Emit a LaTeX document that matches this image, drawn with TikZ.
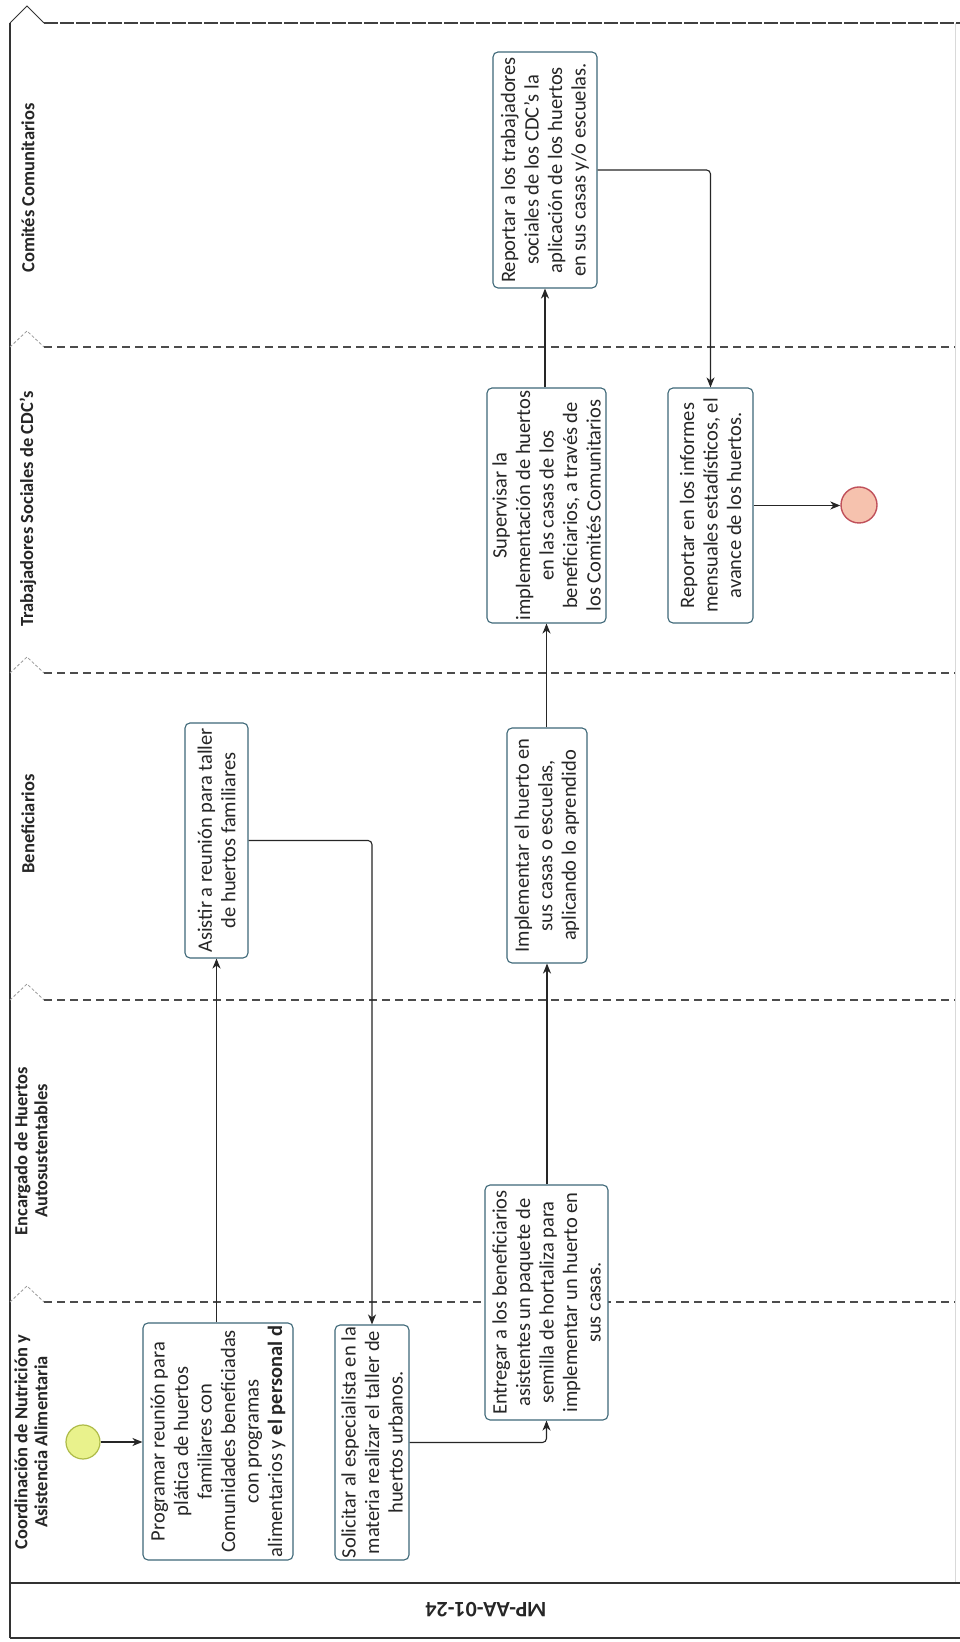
\documentclass[tikz,border=0pt]{standalone}
\usepackage{fontspec}
\setmainfont{Carlito}
\usetikzlibrary{arrows.meta}
\definecolor{taskline}{HTML}{3E6878}
\definecolor{startfill}{HTML}{E9F28C}
\definecolor{startline}{HTML}{AEBB48}
\definecolor{endfill}{HTML}{F6C2AE}
\definecolor{endline}{HTML}{C0505A}
\begin{document}
\begin{tikzpicture}[x=1pt,y=1pt,
  task/.style={draw=taskline, line width=1.1pt, rounded corners=5pt, fill=white,
    rotate=90, align=center, inner sep=1pt,
    font=\fontsize{20.5}{23.5}\selectfont, text=black!85},
  flow/.style={draw=black!85, line width=1.1pt, rounded corners=4pt,
    -{Stealth[length=10pt,width=8pt,inset=3pt]}},
  lanesep/.style={draw=black!70, line width=1.1pt, dash pattern=on 8pt off 5pt},
  chevron/.style={draw=black!40, line width=0.8pt, dash pattern=on 3pt off 2pt},
  lanelabel/.style={rotate=90, align=center,
    font=\bfseries\fontsize{18.5}{20}\selectfont, text=black!85},
]
\useasboundingbox (0,0) rectangle (960,1642);
\fill[white] (0,0) rectangle (960,1642);

% pool frame
\draw[black!80, line width=1.2pt] (10,1619) -- (10,4);
\draw[black!15, line width=0.6pt] (955,1619) -- (955,59);
\draw[black!80, line width=1.3pt] (10,59) -- (960,59);
\draw[black!80, line width=1.5pt] (10,4) -- (960,4);
\node[rotate=180, font=\bfseries\fontsize{22}{24}\selectfont, text=black!85] (pool) at (486,32) {MP-AA-01-24};

% lane boundaries
\draw[black!80, line width=1pt] (10,1619) -- (27,1636) -- (44,1619);
\draw[draw=black!75, line width=1.3pt, dash pattern=on 14pt off 2pt] (44,1619) -- (960,1619);
\foreach \yy in {1295,969,642,340} {
  \draw[chevron] (10,\yy) -- (27,\yy+16) -- (44,\yy);
  \draw[lanesep] (44,\yy) -- (955,\yy);
}

% lane headers
\node[lanelabel] (l1) at (28,1454) {Comités Comunitarios};
\node[lanelabel] (l2) at (28,1133) {Trabajadores Sociales de CDC's};
\node[lanelabel] (l3) at (28,818) {Beneficiarios};
\node[lanelabel] (l4) at (31,491) {Encargado de Huertos\\Autosustentables};
\node[lanelabel] (l5) at (31,200) {Coordinación de Nutrición y\\Asistencia Alimentaria};

% events
\node[circle, draw=startline, fill=startfill, line width=1.2pt, minimum size=34pt, inner sep=0pt] (start) at (83,200) {};
\node[circle, draw=endline, fill=endfill, line width=1.4pt, minimum size=36pt, inner sep=0pt] (end) at (859,1137) {};

% tasks
\node[task, minimum width=237pt, minimum height=150pt] (prog) at (218,200.5)
  {Programar reunión para\\plática de huertos\\familiares con\\Comunidades beneficiadas\\con programas\\alimentarios y \textbf{el personal d}};
\node[task, minimum width=235pt, minimum height=74pt] (soli) at (372,199.5)
  {Solicitar al especialista en la\\materia realizar el taller de\\huertos urbanos.};
\node[task, minimum width=235pt, minimum height=123pt] (entr) at (546.5,339.5)
  {Entregar a los beneficiarios\\asistentes un paquete de\\semilla de hortaliza para\\implementar un huerto en\\sus casas.};
\node[task, minimum width=235pt, minimum height=63pt] (asis) at (216.5,801.5)
  {Asistir a reunión para taller\\de huertos familiares};
\node[task, minimum width=235pt, minimum height=80pt] (impl) at (547,796.5)
  {Implementar el huerto en\\sus casas o escuelas,\\aplicando lo aprendido};
\node[task, minimum width=235pt, minimum height=119pt] (sup) at (546.5,1136.5)
  {Supervisar la\\implementación de huertos\\en las casas de los\\beneficiarios, a través de\\los Comités Comunitarios};
\node[task, minimum width=235pt, minimum height=85pt] (rep2) at (710.5,1136.5)
  {Reportar en los informes\\mensuales estadísticos, el\\avance de los huertos.};
\node[task, minimum width=236pt, minimum height=104pt] (rep1) at (545,1472)
  {Reportar a los trabajadores\\sociales de los CDC's la\\aplicación de los huertos\\en sus casas y/o escuelas.};

% sequence flows
\draw[flow] (start.east) -- (start.east -| prog.north);
\draw[flow] (asis.west |- prog.east) -- (asis.west);
\draw[flow] (asis.south) -| (soli.east);
\draw[flow] (soli.south) -| (entr.west);
\draw[flow] (impl.west |- entr.east) -- (impl.west);
\draw[flow] (sup.west |- impl.east) -- (sup.west);
\draw[flow] (rep1.west |- sup.east) -- (rep1.west);
\draw[flow] (rep1.south) -| (rep2.east);
\draw[flow] (rep2.south) -- (rep2.south -| end.west);
\end{tikzpicture}
\end{document}
